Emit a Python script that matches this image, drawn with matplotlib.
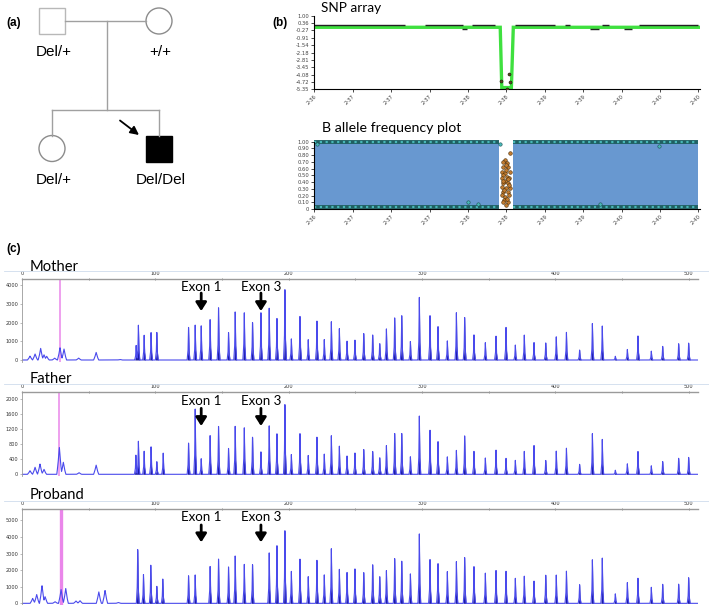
import numpy as np
import matplotlib
matplotlib.use("Agg")
import matplotlib.pyplot as plt
from matplotlib.lines import Line2D
from matplotlib.patches import Rectangle, Circle

W, H = 709, 605
TXT_FONT = ["Lato", "DejaVu Sans"]
PED_FONT = ["Liberation Sans", "DejaVu Sans"]

# ---------------- (a) pedigree ----------------
ped_genotype = ["Del/+", "+/+", "Del/+", "Del/Del"]
ped_sex = ["M", "F", "F", "M"]
ped_affected = [False, False, False, True]
ped_generation = [0, 0, 1, 1]
ped_column = [0, 1, 0, 1]

# ---------------- (b) SNP array / BAF ----------------
snp_tick_labels = ["2-36", "2-37", "2-37", "2-37", "2-38", "2-38",
                   "2-39", "2-39", "2-40", "2-40", "2-40"]
snp_yticks = [1.00, 0.36, -0.27, -0.91, -1.54, -2.18, -2.81, -3.45, -4.08, -4.72, -5.35]
snp_line_x = [0.0, 4.84, 4.88, 5.13, 5.18, 10.0]
snp_line_y = [0.0, 0.0, -5.2, -5.2, 0.0, 0.0]
snp_dash_start = [0.0, 2.88, 4.10, 5.22, 6.53, 7.48, 8.44, 3.84, 7.18, 8.05]
snp_dash_end = [2.36, 3.88, 4.70, 6.27, 6.66, 7.66, 10.0, 3.97, 7.40, 8.26]
snp_dash_value = [0.17, 0.17, 0.17, 0.17, 0.17, 0.17, 0.17, -0.17, -0.17, -0.17]
snp_del_x = [4.86, 5.10, 5.08, 5.02]
snp_del_y = [-4.6, -4.7, -4.0, -5.3]

baf_yticks = [1.0, 0.9, 0.8, 0.7, 0.6, 0.5, 0.4, 0.3, 0.2, 0.1, 0.0]
baf_ylabels = ["1.00", "0.90", "0.80", "0.70", "0.60", "0.50", "0.40",
               "0.30", "0.20", "0.10", "0"]
baf_block_start = [0.0, 5.18]
baf_block_end = [4.81, 10.0]
baf_out_x = [0.06, 4.84, 4.01, 4.25, 8.98, 7.44]
baf_out_y = [0.97, 0.96, 0.11, 0.07, 0.93, 0.07]
baf_del_x = [5.10, 4.97, 4.92, 5.01, 4.92, 5.05, 4.88, 4.97, 5.10, 4.92, 5.01, 4.88,
             5.07, 4.97, 4.92, 5.03, 4.88, 4.98, 5.10, 4.92, 5.03, 4.88, 4.97, 5.07,
             4.95, 5.03, 4.98, 4.92, 5.05, 5.00, 4.90, 5.08, 4.95, 5.02, 4.99]
baf_del_y = [0.83, 0.73, 0.70, 0.68, 0.63, 0.62, 0.55, 0.53, 0.55, 0.50, 0.48, 0.46,
             0.46, 0.41, 0.38, 0.38, 0.33, 0.31, 0.31, 0.26, 0.25, 0.21, 0.18, 0.21,
             0.13, 0.10, 0.06, 0.11, 0.44, 0.58, 0.42, 0.35, 0.28, 0.15, 0.66]

# ---------------- (c) MLPA electropherograms ----------------
size_ticks = [0, 100, 200, 300, 400, 500]
probe_size = [124.9, 129.9, 134.4, 141.1, 147.4, 154.9, 159.9, 166.7, 172.9, 179.2,
              185.4, 191.2, 197.2, 202.0, 208.5, 214.7, 221.2, 226.7, 232.0, 238.0,
              243.8, 249.7, 256.3, 263.0, 268.3, 273.3, 279.5, 284.8, 291.3, 298.0,
              306.0, 312.0, 319.0, 325.8, 332.0, 339.0, 347.5, 355.5, 363.0, 370.0,
              376.7, 384.0, 392.8, 400.7, 408.3, 418.2, 427.8, 435.2, 445.0, 454.0,
              462.0, 472.0, 480.5, 492.5, 500.0]
mother_height = [1780, 1900, 1870, 2280, 2810, 1470, 2670, 2670, 2120, 2540,
                 2810, 2330, 3960, 1170, 2400, 1110, 2140, 1110, 2080, 1740,
                 1060, 1100, 1440, 1420, 930, 1690, 2310, 2430, 1030, 3340,
                 2430, 1870, 1030, 2560, 2280, 1400, 940, 1330, 1810, 800,
                 1390, 980, 940, 1240, 1560, 550, 2010, 1870, 210, 590,
                 1350, 480, 760, 900, 940]
father_height = [853, 1776, 427, 1093, 1288, 693, 1333, 1315, 1048, 603,
                 1315, 1136, 1963, 549, 1120, 515, 1021, 549, 1048, 781,
                 515, 590, 675, 648, 470, 781, 1120, 1120, 488, 1555,
                 1208, 915, 470, 648, 1030, 640, 443, 675, 443, 373,
                 640, 808, 381, 621, 736, 275, 1120, 960, 115, 293,
                 640, 230, 355, 443, 470]
proband_height = [1700, 1745, 0, 2350, 2690, 2200, 2970, 2490, 2470, 0,
                  3090, 3650, 4615, 2000, 2750, 1645, 2670, 1745, 3350, 2130,
                  1960, 2150, 1890, 2470, 1710, 2010, 2770, 2610, 1850, 4180,
                  2710, 2510, 1930, 2550, 2770, 2310, 1850, 2070, 2010, 1510,
                  1710, 1410, 1750, 1710, 2050, 1160, 2710, 2810, 600, 1310,
                  1590, 980, 1200, 1200, 1610]
mother_early_size = [6, 9.8, 14, 16.5, 18.5, 24.5, 28.5, 31.5, 42.5, 55.6, 73.5,
                     85.6, 87.3, 91.6, 96.8, 101.1]
mother_early_height = [210, 320, 620, 280, 200, 100, 660, 590, 100, 410, 30,
                       800, 1870, 1390, 1470, 1550]
father_early_size = [6, 9.8, 13.5, 16.5, 28, 31, 42.8, 55.6, 85.4, 87.3, 91.6,
                     96.8, 101.1, 105.9]
father_early_height = [96, 187, 275, 133, 728, 320, 43, 248, 533, 888, 648,
                       736, 355, 576]
proband_early_size = [8, 11, 15, 17.3, 24.8, 29.3, 32.8, 40.5, 43.5, 57.6, 62.3,
                      72.3, 86.8, 91.1, 96.6, 101.1, 105.6]
proband_early_height = [300, 540, 1080, 400, 100, 840, 900, 140, 160, 700, 780,
                        50, 3370, 1765, 2310, 1080, 1500]
marker_size = [28.5, 28.0, 29.0]

samples = ["Mother", "Father", "Proband"]
main_heights = [mother_height, father_height, proband_height]
early_sizes = [mother_early_size, father_early_size, proband_early_size]
early_heights = [mother_early_height, father_early_height, proband_early_height]
y_ticks = [range(0, 4001, 1000), range(0, 2001, 400), range(0, 5001, 1000)]
exon_labels = ["Exon 1", "Exon 3"]
exon_probe = [2, 9]

fig = plt.figure(figsize=(W / 100, H / 100), dpi=100)


def px_axes(left, top, right, bottom):
    return fig.add_axes([left / W, 1 - bottom / H, (right - left) / W, (bottom - top) / H])


def fig_text(x, y, s, **kw):
    fig.text(x / W, 1 - y / H, s, **kw)


# ---------- (a) ----------
ax = px_axes(0, 0, 255, 200)
ax.set_xlim(0, 255)
ax.set_ylim(200, 0)
ax.axis("off")
col_x = [52, 159]
gen_y = [21, 148.5]
half = 13
lc = "#a0a0a0"
for sex, aff, g, c, lab in zip(ped_sex, ped_affected, ped_generation, ped_column, ped_genotype):
    cx, cy = col_x[c], gen_y[g]
    fc = "black" if aff else "white"
    ec = "black" if aff else ("#b8b8b8" if sex == "M" else "#8c8c8c")
    if sex == "M":
        ax.add_patch(Rectangle((cx - half, cy - half), 2 * half, 2 * half, fc=fc, ec=ec, lw=1))
    else:
        ax.add_patch(Circle((cx, cy), half, fc=fc, ec=ec, lw=1))
    ax.text(cx + 1.5, cy + 31.5, lab, ha="center", va="center", fontsize=11, family=PED_FONT)
    if aff:
        ax.annotate("", xy=(cx - 20, cy - 13.5), xytext=(cx - 39, cy - 28),
                    arrowprops=dict(arrowstyle="-|>,head_width=0.25,head_length=0.5",
                                    color="black", lw=1.3, shrinkA=0, shrinkB=0))
mid = (col_x[0] + col_x[1]) / 2 + 1.5
sib_y = 110
ax.plot([col_x[0] + half, col_x[1] - half], [gen_y[0]] * 2, color=lc, lw=1)
ax.plot([mid, mid], [gen_y[0], sib_y], color=lc, lw=1)
ax.plot(col_x, [sib_y, sib_y], color=lc, lw=1)
for c in col_x:
    ax.plot([c, c], [sib_y, gen_y[1] - half], color=lc, lw=1)
fig_text(14, 22.7, "(a)", fontsize=8.5, fontweight="bold", family=PED_FONT, ha="center", va="center")

# ---------- (b) SNP array ----------
ax = px_axes(314.3, 15.7, 700, 89.3)
ax.set_xlim(0, 10.04)
ax.set_ylim(-5.35, 1.0)
ax.plot(snp_line_x, snp_line_y, color="#3fe03f", lw=2.4, solid_joinstyle="miter")
ax.hlines(snp_dash_value, snp_dash_start, snp_dash_end, color="#222222", lw=1.0)
ax.scatter(snp_del_x, snp_del_y, s=5, c="#5a4a20", edgecolors="black", lw=0.3, zorder=3)
ax.set_yticks(snp_yticks)
ax.set_yticklabels(["%.2f" % v for v in snp_yticks])
ax.set_xticks(range(len(snp_tick_labels)))
ax.set_xticklabels(snp_tick_labels, rotation=45, ha="right", va="top", rotation_mode="anchor")
for s in ["top", "right"]:
    ax.spines[s].set_visible(False)
for s in ["left", "bottom"]:
    ax.spines[s].set_linewidth(0.8)
ax.tick_params(labelsize=3.8, length=2, width=0.5, pad=1.5, labelcolor="#444444")
fig_text(321, 8, "SNP array", fontsize=9.8, family=TXT_FONT, ha="left", va="center")
fig_text(280, 23.3, "(b)", fontsize=8.5, fontweight="bold", family=PED_FONT, ha="center", va="center")

# ---------- (b) BAF ----------
ax = px_axes(314.3, 141.7, 700, 209)
ax.set_xlim(0, 10.04)
ax.set_ylim(0, 1.0)
for a, b in zip(baf_block_start, baf_block_end):
    ax.fill_between([a, b], 0.02, 0.99, color="#6898d0", lw=0)
    for yv in (0.99, 0.025):
        ax.plot([a, b], [yv, yv], color="#1f5f62", lw=2.8, clip_on=False, solid_capstyle="butt")
        ax.plot([a, b], [yv, yv], color="#48b8b8", lw=1.6, ls=(0, (1, 1.6)), clip_on=False)
ax.scatter(baf_out_x, baf_out_y, s=6, c="#48b8b8", edgecolors="#1f4f52", lw=0.4, zorder=3)
ax.scatter(baf_del_x, baf_del_y, s=7, c="#c07a30", edgecolors="#3a2200", lw=0.35, zorder=3)
ax.set_yticks(baf_yticks)
ax.set_yticklabels(baf_ylabels)
ax.set_xticks(range(len(snp_tick_labels)))
ax.set_xticklabels(snp_tick_labels, rotation=45, ha="right", va="top", rotation_mode="anchor")
for s in ["top", "right"]:
    ax.spines[s].set_visible(False)
for s in ["left", "bottom"]:
    ax.spines[s].set_linewidth(0.8)
ax.tick_params(labelsize=3.8, length=2, width=0.5, pad=1.5, labelcolor="#444444")
fig_text(321.7, 128.3, "B allele frequency plot", fontsize=10.2, family=TXT_FONT, ha="left", va="center")

# ---------- (c) electropherograms ----------
fig_text(14, 249, "(c)", fontsize=8.5, fontweight="bold", family=PED_FONT, ha="center", va="center")

# pixel boxes: top spine, bottom edge, and data limits
boxes = [(279, 361.5, -80, 4320), (392, 475.8, -40, 2195), (509, 605, -100, 5680)]
title_y = [267, 379, 495]
exon_y = [(3890, 3570, 2610), (1963, 1760, 1288), (5180, 4720, 3675)]

grid = np.linspace(-5, 512, 8000)


def peak_curve(sizes, heights, sharp):
    curve = np.zeros_like(grid)
    for p, h in zip(sizes, heights):
        if h <= 0:
            continue
        if sharp:
            w = 1.05
            shape = np.interp(grid, [p - w, p - 0.35 * w, p, p + 0.35 * w, p + w],
                              [0, 0.3 * h, h, 0.3 * h, 0])
        else:
            w = 1.9
            shape = np.interp(grid, [p - w, p - 0.5 * w, p, p + 0.5 * w, p + w],
                              [0, 0.4 * h, h, 0.4 * h, 0])
        curve = np.maximum(curve, shape)
    return curve


for i, name in enumerate(samples):
    top, bottom, ylo, yhi = boxes[i]
    ax = px_axes(22, top, 698, bottom)
    ax.set_xlim(0, 507)
    ax.set_ylim(ylo, yhi)

    es = np.array(early_sizes[i])
    eh = np.array(early_heights[i])
    soft = es < 84
    y_soft = peak_curve(es[soft], eh[soft], False)
    y_sharp = np.maximum(peak_curve(es[~soft], eh[~soft], True),
                         peak_curve(probe_size, main_heights[i], True))
    ax.fill_between(grid, 0, y_sharp, color="#1c1ca6", lw=0)
    ax.plot(grid, np.maximum(y_soft, y_sharp), color="#4a4aec", lw=0.8)

    ax.axvline(marker_size[i], color="#ea86ea", lw=2.4 if name == "Proband" else 1.1, zorder=0)

    ty, at, ah = exon_y[i]
    for lab, k in zip(exon_labels, exon_probe):
        x = probe_size[k]
        ax.text(x, ty, lab, ha="center", va="center", fontsize=9.6, family=TXT_FONT)
        ax.annotate("", xy=(x, ah), xytext=(x, at),
                    arrowprops=dict(arrowstyle="-|>,head_width=0.32,head_length=0.5",
                                    color="black", lw=2.0, shrinkA=0, shrinkB=0))

    ax.xaxis.tick_top()
    ax.set_xticks(size_ticks)
    ax.set_xticks(range(0, 501, 50), minor=True)
    ax.tick_params(axis="x", which="both", length=2, width=0.5, color="#666666",
                   labelsize=3.6, pad=1.5, labelcolor="#333333", direction="inout")
    ax.set_yticks(list(y_ticks[i]))
    ax.tick_params(axis="y", length=1.5, width=0.4, color="#888888", labelsize=3.6,
                   pad=1.2, labelcolor="#333333")
    ax.spines["top"].set_color("#9a9a9a")
    ax.spines["top"].set_linewidth(1.0)
    ax.spines["left"].set_color("#9a9a9a")
    ax.spines["left"].set_linewidth(0.6)
    ax.spines["right"].set_visible(False)
    ax.spines["bottom"].set_visible(False)

    fig.add_artist(Line2D([4 / W, 1.0], [1 - (top - 8) / H] * 2, transform=fig.transFigure,
                          color="#cfdcec", lw=0.6))
    fig_text(30, title_y[i], name, fontsize=10.6, family=TXT_FONT, ha="left", va="center")

fig.savefig("out.png", dpi=100)
